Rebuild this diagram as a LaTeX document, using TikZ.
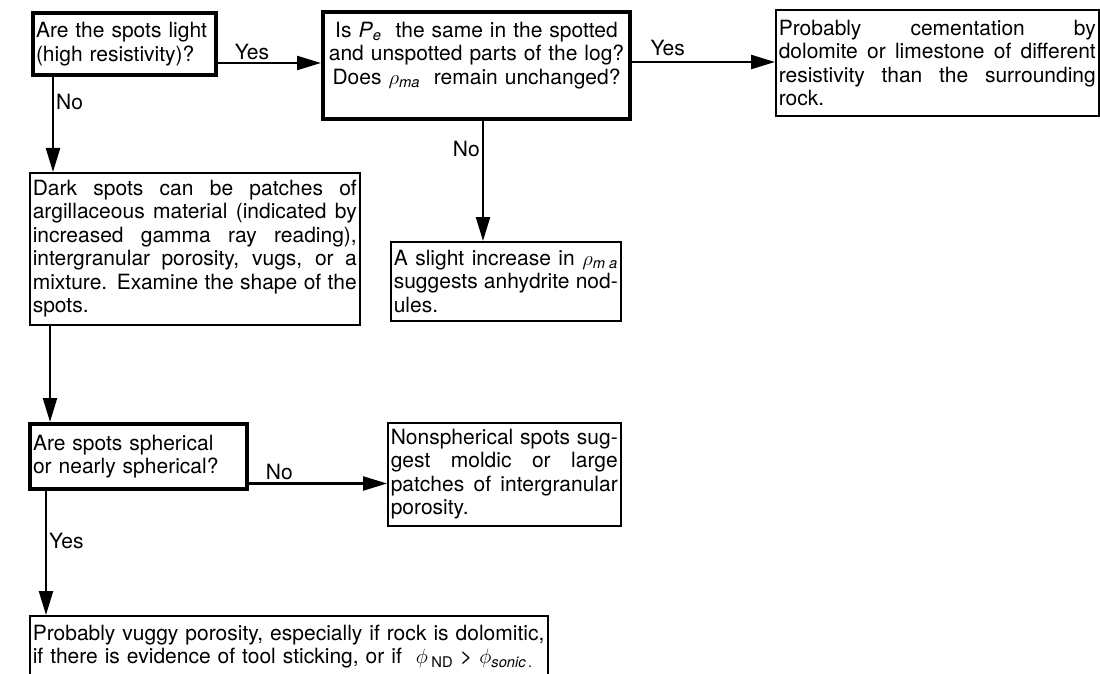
\documentclass[tikz,border=0pt]{standalone}
\usepackage{fontspec}
\setmainfont{TeX Gyre Heros}
\usetikzlibrary{arrows.meta}
\tikzset{
  box/.style={draw, line width=1.6pt, anchor=north west, inner xsep=3pt, inner ysep=0pt, align=justify},
  qbox/.style={box, line width=4pt, align=left},
  flow/.style={line width=2.4pt, -{Triangle[length=24pt,width=14pt]}},
  lbl/.style={inner sep=2pt},
}
\begin{document}
\begin{tikzpicture}[x=1pt,y=-1pt,font=\fontsize{21pt}{23.5pt}\selectfont]
\useasboundingbox (0,0) rectangle (1100,674);
\clip (0,0) rectangle (1100,674);

\node[qbox,text width=177pt,minimum height=62pt] (spotlight) at (31,11)
  {Are the spots light\\(high resistivity)?};
\node[qbox,align=center,inner xsep=1pt,text width=305pt,minimum height=107pt] (pecheck) at (321,10)
  {Is \textit{P}\textsubscript{\textit{e}}\ \ the same in the spotted\\and unspotted parts of the log?\\Does $\rho$\textsubscript{\textit{ma}}\ \ remain unchanged?\par\vskip20pt\hrule height0pt};
\node[box,text width=317pt,minimum height=106pt] (cement) at (775,9)
  {Probably cementation by\linebreak dolomite or limestone of different\linebreak resistivity than the surrounding\linebreak rock.};
\node[box,text width=324pt,minimum height=152pt] (darkspots) at (29,172)
  {Dark spots can be patches of\linebreak argillaceous material (indicated by\linebreak increased gamma ray reading),\linebreak intergranular porosity, vugs, or a\linebreak mixture. Examine the shape of the\linebreak spots.};
\node[box,text width=224pt,minimum height=79pt] (anhydrite) at (390,241)
  {A slight increase in $\rho$\textsubscript{\textit{m a}}\linebreak suggests anhydrite nod-\linebreak ules.};
\node[qbox,text width=211pt,minimum height=65pt] (spherical) at (28,422)
  {Are spots spherical\\or nearly spherical?};
\node[box,text width=227pt,minimum height=103pt] (moldic) at (387,422)
  {Nonspherical spots sug-\linebreak gest moldic or large\linebreak patches of intergranular\linebreak porosity.};
\node[qbox,line width=1.6pt,text width=512pt,minimum height=62pt] (vuggy) at (29,615)
  {Probably vuggy porosity, especially if rock is dolomitic,\\if there is evidence of tool sticking, or if\ \ $\phi$\,\textsubscript{ND} > $\phi$\textsubscript{\textit{sonic}\,.}};

\coordinate (ya) at ([yshift=-19pt]spotlight.east);
\coordinate (yb) at ([yshift=3.5pt]pecheck.east);
\coordinate (na) at ([xshift=22pt]spotlight.south west);
\coordinate (nb) at ([xshift=162pt]pecheck.south west);
\coordinate (da) at ([xshift=21pt]darkspots.south west);
\coordinate (sa) at ([yshift=-27pt]spherical.east);
\coordinate (sb) at ([xshift=18pt]spherical.south west);

\draw[flow] (ya) -- (ya -| pecheck.west) node[lbl,pos=0.33,above] {Yes};
\draw[flow] (yb) -- (yb -| cement.west) node[lbl,pos=0.25,above=3pt] {Yes};
\draw[flow] (na) -- (na |- darkspots.north) node[lbl,pos=0.26,right] {No};
\draw[flow] (nb) -- (nb |- anhydrite.north) node[lbl,pos=0.23,left] {No};
\draw[flow] (da) -- (da |- spherical.north);
\draw[flow] (sa) -- (sa -| moldic.west) node[lbl,pos=0.22,above] {No};
\draw[flow] (sb) -- (sb |- vuggy.north) node[lbl,pos=0.4,right] {Yes};
\end{tikzpicture}
\end{document}
